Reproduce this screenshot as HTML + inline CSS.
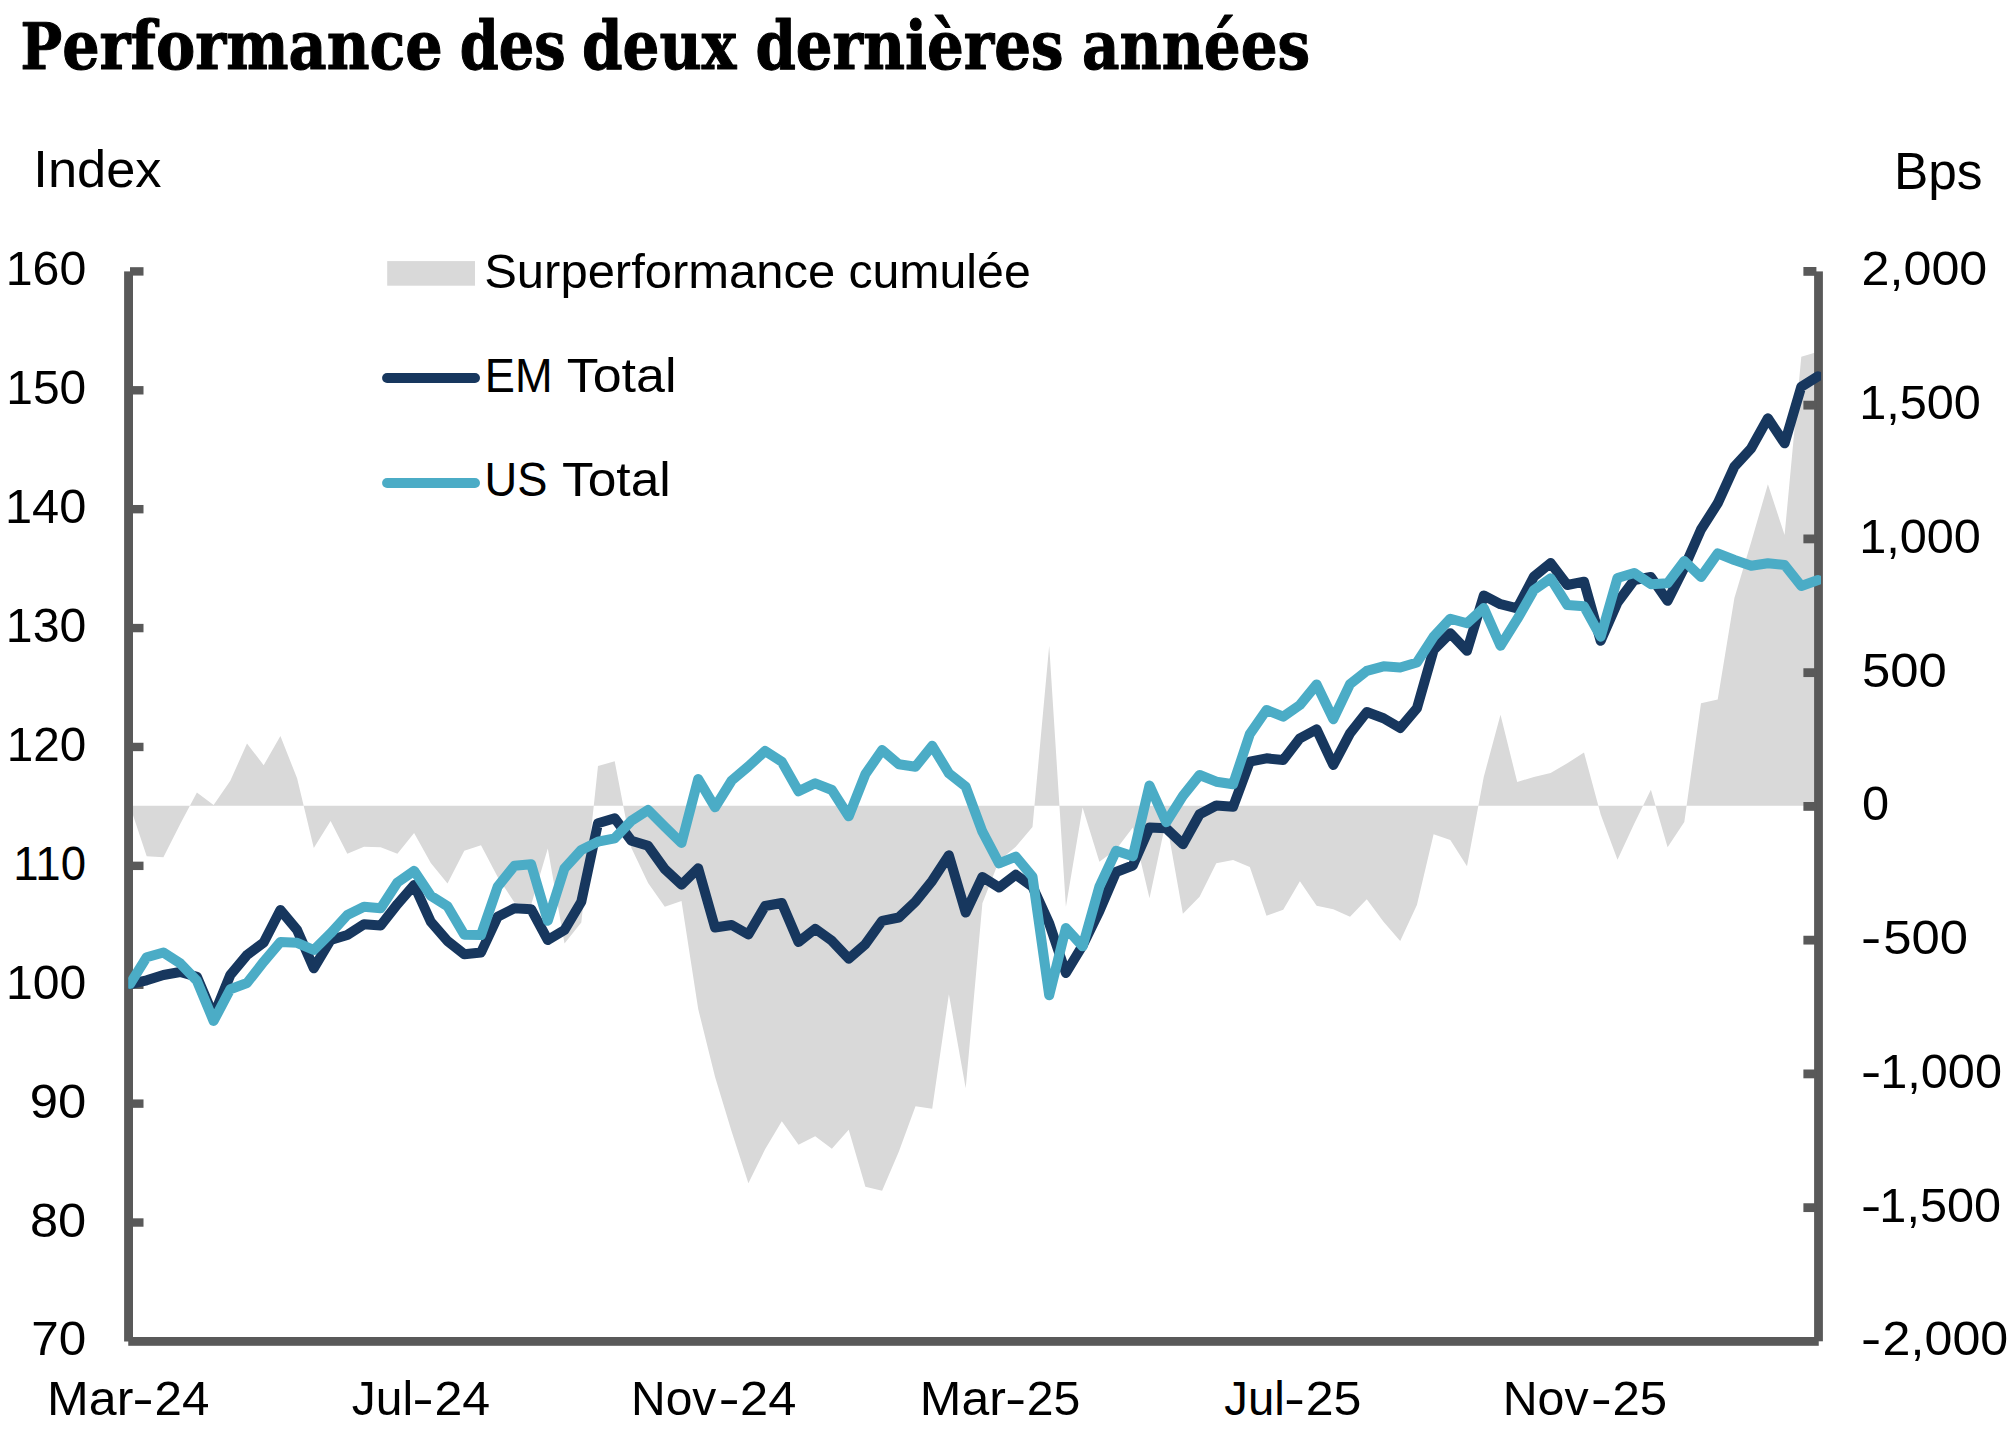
<!DOCTYPE html>
<html lang="fr"><head><meta charset="utf-8"><title>Performance des deux dernières années</title>
<style>html,body{margin:0;padding:0;background:#fff}body{width:2016px;height:1448px;overflow:hidden}svg{display:block}.t{font-family:"Liberation Sans", sans-serif;fill:#000}.h{font-family:"DejaVu Serif Condensed", "DejaVu Serif", "Liberation Serif", serif;font-weight:bold;fill:#000;stroke:#000;stroke-width:1;stroke-linejoin:round}</style></head><body>
<svg width="2016" height="1448" viewBox="0 0 2016 1448">
<rect width="2016" height="1448" fill="#fff"/>
<text class="h" y="69.3" font-size="67" font-stretch="condensed"><tspan x="20.5" textLength="422.27" lengthAdjust="spacingAndGlyphs"><tspan font-size="63">P</tspan>erformance</tspan> <tspan x="459.85" textLength="105.92" lengthAdjust="spacingAndGlyphs">des</tspan> <tspan x="582.07" textLength="154.26" lengthAdjust="spacingAndGlyphs">deux</tspan> <tspan x="755.38" textLength="308.1" lengthAdjust="spacingAndGlyphs">dernières</tspan> <tspan x="1082.08" textLength="228.01" lengthAdjust="spacingAndGlyphs">années</tspan></text>
<path d="M130.0,805.8 L130.0,806.0 L146.7,856.2 L163.4,857.2 L180.1,824.3 L196.9,792.5 L213.6,804.9 L230.3,780.8 L247.0,743.5 L263.7,765.2 L280.4,736.1 L297.1,778.3 L313.8,848.0 L330.6,821.1 L347.3,853.7 L364.0,846.7 L380.7,847.2 L397.4,853.7 L414.1,833.0 L430.8,862.9 L447.5,883.5 L464.3,850.8 L481.0,845.3 L497.7,877.0 L514.4,902.5 L531.1,905.0 L547.8,848.5 L564.5,943.5 L581.3,922.4 L598.0,766.0 L614.7,761.3 L631.4,848.0 L648.1,883.0 L664.8,906.8 L681.5,901.0 L698.2,1009.0 L715.0,1076.7 L731.7,1131.7 L748.4,1183.3 L765.1,1149.2 L781.8,1121.3 L798.5,1144.7 L815.2,1136.2 L831.9,1148.8 L848.7,1129.7 L865.4,1186.7 L882.1,1190.8 L898.8,1151.7 L915.5,1106.3 L932.2,1108.7 L948.9,994.2 L965.7,1088.3 L982.4,903.3 L999.1,860.7 L1015.8,846.7 L1032.5,827.0 L1049.2,645.8 L1065.9,906.8 L1082.6,807.6 L1099.4,861.7 L1116.1,849.5 L1132.8,827.5 L1149.5,898.3 L1166.2,820.0 L1182.9,913.7 L1199.6,896.7 L1216.3,863.3 L1233.1,860.0 L1249.8,867.0 L1266.5,915.8 L1283.2,909.7 L1299.9,881.2 L1316.6,905.8 L1333.3,909.2 L1350.0,916.7 L1366.8,899.2 L1383.5,921.7 L1400.2,941.0 L1416.9,905.0 L1433.6,834.2 L1450.3,840.0 L1467.0,866.3 L1483.8,776.7 L1500.5,714.8 L1517.2,782.0 L1533.9,777.0 L1550.6,773.0 L1567.3,763.3 L1584.0,752.5 L1600.7,814.5 L1617.5,859.7 L1634.2,823.7 L1650.9,789.8 L1667.6,847.3 L1684.3,821.9 L1701.0,703.2 L1717.7,699.4 L1734.4,598.0 L1751.2,542.0 L1767.9,484.2 L1784.6,535.0 L1801.3,356.7 L1818.0,351.7 L1818.0,805.8 Z" fill="#D9D9D9"/>
<g fill="#595959">
<rect x="124.1" y="271.4" width="8.9" height="1070.1"/>
<rect x="1814.1" y="271.4" width="8.8" height="1069.9"/>
<rect x="128.25" y="1337" width="1690.5" height="8.8"/>
<rect x="130" y="267.20" width="13.5" height="8.4"/>
<rect x="130" y="386.09" width="13.5" height="8.4"/>
<rect x="130" y="504.98" width="13.5" height="8.4"/>
<rect x="130" y="623.87" width="13.5" height="8.4"/>
<rect x="130" y="742.76" width="13.5" height="8.4"/>
<rect x="130" y="861.65" width="13.5" height="8.4"/>
<rect x="130" y="980.54" width="13.5" height="8.4"/>
<rect x="130" y="1099.43" width="13.5" height="8.4"/>
<rect x="130" y="1218.32" width="13.5" height="8.4"/>
<rect x="1803.4" y="267.00" width="13" height="8.8"/>
<rect x="1803.4" y="400.75" width="13" height="8.8"/>
<rect x="1803.4" y="534.50" width="13" height="8.8"/>
<rect x="1803.4" y="668.25" width="13" height="8.8"/>
<rect x="1803.4" y="802.00" width="13" height="8.8"/>
<rect x="1803.4" y="935.75" width="13" height="8.8"/>
<rect x="1803.4" y="1069.50" width="13" height="8.8"/>
<rect x="1803.4" y="1203.25" width="13" height="8.8"/>
</g>
<clipPath id="pc"><rect x="128.2" y="200" width="1692.8" height="1200"/></clipPath>
<g clip-path="url(#pc)" fill="none" stroke-width="10" stroke-linejoin="round" stroke-linecap="round">
<polyline points="130.0,984.0 146.7,980.3 163.4,975.0 180.1,972.0 196.9,976.7 213.6,1016.0 230.3,975.0 247.0,955.0 263.7,942.5 280.4,910.0 297.1,930.0 313.8,968.3 330.6,940.0 347.3,935.0 364.0,924.2 380.7,925.5 397.4,904.2 414.1,885.0 430.8,921.7 447.5,941.0 464.3,954.2 481.0,952.5 497.7,916.7 514.4,908.3 531.1,909.2 547.8,940.0 564.5,930.0 581.3,901.7 598.0,823.3 614.7,818.3 631.4,840.8 648.1,845.8 664.8,869.2 681.5,884.7 698.2,868.3 715.0,927.5 731.7,925.0 748.4,934.5 765.1,906.0 781.8,903.0 798.5,942.0 815.2,928.8 831.9,940.8 848.7,958.7 865.4,944.2 882.1,920.8 898.8,917.5 915.5,901.7 932.2,880.8 948.9,855.3 965.7,912.5 982.4,877.0 999.1,887.5 1015.8,874.7 1032.5,886.7 1049.2,923.3 1065.9,973.0 1082.6,945.5 1099.4,911.0 1116.1,872.0 1132.8,865.5 1149.5,827.5 1166.2,828.3 1182.9,844.2 1199.6,814.2 1216.3,805.5 1233.1,806.7 1249.8,761.7 1266.5,758.3 1283.2,760.0 1299.9,738.3 1316.6,729.3 1333.3,765.0 1350.0,733.3 1366.8,712.0 1383.5,718.3 1400.2,728.0 1416.9,708.3 1433.6,650.0 1450.3,633.3 1467.0,650.8 1483.8,595.5 1500.5,604.2 1517.2,608.3 1533.9,576.7 1550.6,563.0 1567.3,585.0 1584.0,581.7 1600.7,640.8 1617.5,602.5 1634.2,580.0 1650.9,577.0 1667.6,600.8 1684.3,567.5 1701.0,529.5 1717.7,503.3 1734.4,466.7 1751.2,448.3 1767.9,418.3 1784.6,443.3 1801.3,386.7 1818.0,376.3" stroke="#17375E"/>
<polyline points="130.0,984.0 146.7,957.2 163.4,952.5 180.1,963.3 196.9,980.8 213.6,1021.0 230.3,989.2 247.0,983.0 263.7,961.7 280.4,942.0 297.1,942.8 313.8,950.0 330.6,933.3 347.3,915.0 364.0,906.7 380.7,908.3 397.4,882.5 414.1,870.8 430.8,895.8 447.5,906.3 464.3,934.7 481.0,935.0 497.7,886.7 514.4,865.8 531.1,864.2 547.8,920.8 564.5,868.3 581.3,850.0 598.0,841.7 614.7,838.3 631.4,820.8 648.1,810.0 664.8,826.7 681.5,843.0 698.2,779.0 715.0,807.3 731.7,780.5 748.4,766.4 765.1,751.0 781.8,761.7 798.5,791.3 815.2,783.3 831.9,790.0 848.7,816.3 865.4,774.2 882.1,750.0 898.8,764.2 915.5,766.7 932.2,745.8 948.9,773.3 965.7,786.7 982.4,831.7 999.1,863.3 1015.8,856.7 1032.5,876.7 1049.2,995.3 1065.9,928.0 1082.6,946.3 1099.4,886.7 1116.1,850.8 1132.8,856.3 1149.5,785.5 1166.2,822.3 1182.9,795.8 1199.6,775.0 1216.3,781.7 1233.1,784.2 1249.8,734.2 1266.5,710.0 1283.2,716.7 1299.9,705.0 1316.6,684.5 1333.3,719.2 1350.0,684.2 1366.8,670.8 1383.5,666.3 1400.2,667.5 1416.9,662.5 1433.6,636.7 1450.3,618.7 1467.0,623.3 1483.8,608.0 1500.5,645.8 1517.2,619.2 1533.9,590.0 1550.6,578.3 1567.3,605.0 1584.0,606.3 1600.7,636.7 1617.5,578.0 1634.2,573.0 1650.9,584.2 1667.6,583.3 1684.3,561.0 1701.0,577.0 1717.7,553.3 1734.4,560.0 1751.2,565.8 1767.9,563.3 1784.6,565.0 1801.3,586.0 1818.0,580.0" stroke="#4BACC6"/>
</g>
<text class="t" font-size="48.4" y="287.5"><tspan x="484.22" textLength="351.02" lengthAdjust="spacingAndGlyphs">Surperformance</tspan> <tspan x="848.41" textLength="182.34" lengthAdjust="spacingAndGlyphs">cumulée</tspan></text>
<text class="t" font-size="48.4" y="392.1"><tspan x="484.77" textLength="67.75" lengthAdjust="spacingAndGlyphs">EM</tspan> <tspan x="566.73" textLength="109.73" lengthAdjust="spacingAndGlyphs">Total</tspan></text>
<text class="t" font-size="48.4" y="496.4"><tspan x="484.49" textLength="62.9" lengthAdjust="spacingAndGlyphs">US</tspan> <tspan x="561.93" textLength="108.89" lengthAdjust="spacingAndGlyphs">Total</tspan></text>
<text class="t" font-size="48.4" y="1415.0"><tspan x="47.11" textLength="86.26" lengthAdjust="spacingAndGlyphs">Mar</tspan><tspan x="132.29" textLength="21.55" lengthAdjust="spacingAndGlyphs">-</tspan><tspan x="154.45" textLength="54.9" lengthAdjust="spacingAndGlyphs">24</tspan></text>
<text class="t" font-size="48.4" y="1415.0"><tspan x="351.76" textLength="61.33" lengthAdjust="spacingAndGlyphs">Jul</tspan><tspan x="412.29" textLength="21.55" lengthAdjust="spacingAndGlyphs">-</tspan><tspan x="434.41" textLength="55.71" lengthAdjust="spacingAndGlyphs">24</tspan></text>
<text class="t" font-size="48.4" y="1415.0"><tspan x="631.04" textLength="85.27" lengthAdjust="spacingAndGlyphs">Nov</tspan><tspan x="718.53" textLength="21.27" lengthAdjust="spacingAndGlyphs">-</tspan><tspan x="740.09" textLength="56.3" lengthAdjust="spacingAndGlyphs">24</tspan></text>
<text class="t" font-size="48.4" y="1415.0"><tspan x="919.87" textLength="86.0" lengthAdjust="spacingAndGlyphs">Mar</tspan><tspan x="1005.03" textLength="21.27" lengthAdjust="spacingAndGlyphs">-</tspan><tspan x="1026.81" textLength="53.55" lengthAdjust="spacingAndGlyphs">25</tspan></text>
<text class="t" font-size="48.4" y="1415.0"><tspan x="1224.27" textLength="60.47" lengthAdjust="spacingAndGlyphs">Jul</tspan><tspan x="1284.07" textLength="21.0" lengthAdjust="spacingAndGlyphs">-</tspan><tspan x="1305.71" textLength="55.74" lengthAdjust="spacingAndGlyphs">25</tspan></text>
<text class="t" font-size="48.4" y="1415.0"><tspan x="1502.71" textLength="85.9" lengthAdjust="spacingAndGlyphs">Nov</tspan><tspan x="1590.85" textLength="21.13" lengthAdjust="spacingAndGlyphs">-</tspan><tspan x="1612.46" textLength="54.65" lengthAdjust="spacingAndGlyphs">25</tspan></text>
<text class="t" font-size="48.4" y="954.15"><tspan x="1860.73" textLength="20.59" lengthAdjust="spacingAndGlyphs">-</tspan><tspan x="1883.3" textLength="84.8" lengthAdjust="spacingAndGlyphs">500</tspan></text>
<text class="t" font-size="48.4" y="1087.9"><tspan x="1860.73" textLength="20.59" lengthAdjust="spacingAndGlyphs">-</tspan><tspan x="1880.23" textLength="121.74" lengthAdjust="spacingAndGlyphs">1,000</tspan></text>
<text class="t" font-size="48.4" y="1221.65"><tspan x="1860.73" textLength="20.59" lengthAdjust="spacingAndGlyphs">-</tspan><tspan x="1879.33" textLength="121.74" lengthAdjust="spacingAndGlyphs">1,500</tspan></text>
<text class="t" font-size="48.4" y="1355.4"><tspan x="1860.73" textLength="20.59" lengthAdjust="spacingAndGlyphs">-</tspan><tspan x="1882.61" textLength="125.62" lengthAdjust="spacingAndGlyphs">2,000</tspan></text>
<text class="t" font-size="48.4" transform="translate(5.76,285.4) scale(0.9973,1)">160</text>
<text class="t" font-size="48.4" transform="translate(6.28,404.29) scale(0.9907,1)">150</text>
<text class="t" font-size="48.4" transform="translate(4.97,523.18) scale(1.0073,1)">140</text>
<text class="t" font-size="48.4" transform="translate(5.86,642.07) scale(0.996,1)">130</text>
<text class="t" font-size="48.4" transform="translate(6.71,760.96) scale(0.9853,1)">120</text>
<text class="t" font-size="48.4" transform="translate(13.37,879.85) scale(0.9427,1)">110</text>
<text class="t" font-size="48.4" transform="translate(5.97,998.74) scale(0.9947,1)">100</text>
<text class="t" font-size="48.4" transform="translate(29.63,1117.63) scale(1.0513,1)">90</text>
<text class="t" font-size="48.4" transform="translate(29.91,1236.52) scale(1.046,1)">80</text>
<text class="t" font-size="48.4" transform="translate(31.2,1355.41) scale(1.0212,1)">70</text>
<text class="t" font-size="48.4" transform="translate(1861.61,285.4) scale(1.0373,1)">2,000</text>
<text class="t" font-size="48.4" transform="translate(1859.13,419.15) scale(1.0052,1)">1,500</text>
<text class="t" font-size="48.4" transform="translate(1859.13,552.9) scale(1.0052,1)">1,000</text>
<text class="t" font-size="48.4" transform="translate(1862.0,686.65) scale(1.0502,1)">500</text>
<text class="t" font-size="48.4" transform="translate(1861.98,820.4) scale(1.0087,1)">0</text>
<text class="t" font-size="52.4" transform="translate(33.35,187.0) scale(1.0004,1)">Index</text>
<text class="t" font-size="52.4" transform="translate(1893.98,188.9) scale(0.9815,1)">Bps</text>
<rect x="387.2" y="261.1" width="87.8" height="24.6" fill="#D9D9D9"/>
<line x1="387.1" y1="378" x2="475" y2="378" stroke="#17375E" stroke-width="10" stroke-linecap="round"/>
<line x1="387.1" y1="483.05" x2="475" y2="483.05" stroke="#4BACC6" stroke-width="10" stroke-linecap="round"/>
</svg></body></html>
